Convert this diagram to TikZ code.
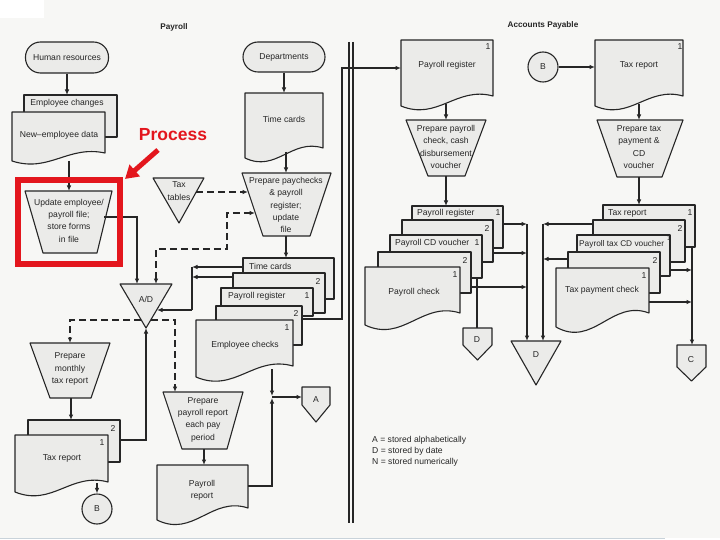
\documentclass[tikz,border=0pt]{standalone}
\usepackage{fontspec}
\setmainfont{Liberation Sans}
\usetikzlibrary{arrows.meta}
\definecolor{bg}{HTML}{F7F7F5}
\definecolor{shfill}{HTML}{EBEBE9}
\definecolor{ink}{HTML}{262626}
\definecolor{redc}{HTML}{E3161D}
\definecolor{rulec}{HTML}{C9D3DA}
\tikzset{
  shp/.style={draw=ink, fill=shfill, line width=1.1pt, line join=round},
  con/.style={draw=ink, line width=1.05pt},
  arr/.style={con, -{Latex[length=5.5pt,width=4.5pt]}},
  darr/.style={con, dash pattern=on 7pt off 4pt, {Latex[length=5.5pt,width=4.5pt]}-{Latex[length=5.5pt,width=4.5pt]}},
  dsh/.style={con, dash pattern=on 7pt off 4pt, -{Latex[length=5.5pt,width=4.5pt]}},
  lbl/.style={font=\fontsize{8.6}{12.3}\selectfont, text=ink, align=center, inner sep=0pt},
  lbw/.style={lbl, anchor=west},
  term/.style={shp, rounded corners=15pt, lbl},
  conn/.style={shp, circle, minimum size=30pt, lbl},
  ttl/.style={font=\fontsize{8.2}{10}\selectfont\bfseries, text=ink, inner sep=0pt}
}
% document with wavy bottom: x1,y1,x2,yLeftBottom,rise
\newcommand\fcdoc[5]{%
  \pgfmathsetmacro\dW{#3-#1}%
  \pgfmathsetmacro\cA{#1+0.6*\dW}%
  \pgfmathsetmacro\cB{#1+0.4*\dW}%
  \pgfmathsetmacro\yR{#4-#5}%
  \pgfmathsetmacro\yA{#4-2*#5}%
  \pgfmathsetmacro\yB{#4+1.5*#5}%
  \path[shp] (#1,#2) -- (#3,#2) -- (#3,\yR) .. controls (\cA,\yA) and (\cB,\yB) .. (#1,#4) -- cycle;}
\newcommand\fcsheet[4]{\path[shp] (#1,#2) rectangle (#3,#4);}
% trapezoid: topLx topRx topY botLx botRx botY
\newcommand\fctrap[6]{\path[shp] (#1,#3) -- (#2,#3) -- (#5,#6) -- (#4,#6) -- cycle;}
% inverted triangle: x1 x2 top apexX apexY
\newcommand\fctri[5]{\path[shp] (#1,#3) -- (#2,#3) -- (#4,#5) -- cycle;}
% off-page connector: x1 x2 top sideY apexY
\newcommand\fcpent[5]{\pgfmathsetmacro\pc{(#1+#2)/2}%
  \path[shp] (#1,#3) -- (#2,#3) -- (#2,#4) -- (\pc,#5) -- (#1,#4) -- cycle;}
\begin{document}
\begin{tikzpicture}[x=1pt,y=-1pt]
\useasboundingbox (0,0) rectangle (720,540);
\fill[bg] (0,0) rectangle (720,540);
\fill[white] (0,0) rectangle (44,18);
\fill[white] (0,538) rectangle (720,540);
\draw[rulec, line width=1pt] (0,538) -- (665,538);

% titles
\node[ttl] (tPay) at (174,27) {Payroll};
\node[ttl] (tAP) at (543,25) {Accounts Payable};

% divider
\draw[con] (349,42) -- (349,523);
\draw[con] (353,42) -- (353,523);

%================ PAYROLL =================
\node[term, minimum width=83pt, minimum height=31pt] (hr) at (67,57.5) {Human resources};
\fcsheet{24}{95}{117}{137}
\node[lbl] (empch) at (67,103) {Employee changes};
\fcdoc{12}{112}{105}{161}{8}
\node[lbl] (newemp) at (59,135) {New–employee data};

\fctrap{25}{112}{191}{43}{97}{253}
\node[lbl] (upd) at (69,220.5) {Update employee/\\payroll file;\\store forms\\in file};

\node[term, minimum width=82pt, minimum height=30pt] (dep) at (284,57) {Departments};
\fcdoc{245}{93}{323}{158}{10}
\node[lbl] (tc) at (284,119) {Time cards};

\fctri{153}{204}{178}{179}{223}
\node[lbl] (taxtab) at (179,191) {Tax\\tables};

\fctrap{242}{331}{173}{263}{310}{236}
\node[lbl] (prep) at (286,205) {Prepare paychecks\\\& payroll\\register;\\update\\file};

\fctri{120}{172}{284}{146}{328}
\node[lbl] (ad) at (146,299) {A/D};

% output stack
\fcsheet{243}{258}{334}{299}
\node[lbw] (s1) at (249,266) {Time cards};
\fcsheet{233}{273}{325}{313}
\node[lbl] (s2n) at (318,281) {2};
\fcsheet{221}{288}{313}{316}
\node[lbw] (s3) at (228,296) {Payroll register};
\node[lbl] (s3n) at (307,296) {1};
\fcsheet{216}{306}{302}{345}
\node[lbl] (s4n) at (296,313) {2};
\fcdoc{196}{320}{293}{377}{11}
\node[lbl] (s5n) at (287,328) {1};
\node[lbl] (s5) at (245,345) {Employee checks};

% monthly tax report
\fctrap{30}{110}{343}{50}{91}{398}
\node[lbl] (mtr) at (70,369) {Prepare\\monthly\\tax report};
\fcsheet{28}{420}{120}{462}
\node[lbl] (tr2) at (113,428) {2};
\fcdoc{15}{435}{108}{492}{10}
\node[lbl] (tr1n) at (102,443) {1};
\node[lbl] (tr1) at (62,458) {Tax report};
\node[conn] (bL) at (97,509) {B};

% payroll report
\fctrap{163}{243}{392}{182}{227}{449}
\node[lbl] (ppr) at (203,419.5) {Prepare\\payroll report\\each pay\\period};
\fcdoc{157}{465}{248}{520}{12}
\node[lbl] (pr) at (202,490) {Payroll\\report};
\fcpent{302}{330}{387}{405}{422}
\node[lbl] (cA) at (316,400) {A};

%================ ACCOUNTS PAYABLE =================
\fcdoc{401}{40}{493}{106}{10}
\node[lbl] (apreg) at (447,65) {Payroll register};
\node[lbl] (apregn) at (488,47) {1};
\node[conn] (bR) at (543,67) {B};
\fcdoc{595}{40}{683}{106}{10}
\node[lbl] (aptr) at (639,65) {Tax report};
\node[lbl] (aptrn) at (680,47) {1};

\fctrap{406}{486}{120}{428}{465}{176}
\node[lbl] (ppc) at (446,147) {Prepare payroll\\check, cash\\disbursement\\voucher};
\fctrap{597}{683}{120}{617}{662}{177}
\node[lbl] (ptp) at (639,147) {Prepare tax\\payment \&\\CD\\voucher};

% left AP stack
\fcsheet{412}{206}{503}{248}
\node[lbw] (p1) at (417,213) {Payroll register};
\node[lbl] (p1n) at (498,213) {1};
\fcsheet{402}{220}{493}{262}
\node[lbl] (p2n) at (487,228) {2};
\fcsheet{390}{235}{482}{278}
\node[lbw] (p3) at (395,243) {Payroll CD voucher};
\node[lbl] (p3n) at (477,243) {1};
\fcsheet{378}{252}{471}{293}
\node[lbl] (p4n) at (465,260) {2};
\fcdoc{365}{267}{460}{325}{12}
\node[lbl] (p5n) at (455,275) {1};
\node[lbl] (p5) at (414,292) {Payroll check};

% right AP stack
\fcsheet{603}{205}{695}{247}
\node[lbw] (t1) at (608,213) {Tax report};
\node[lbl] (t1n) at (690,213) {1};
\fcsheet{593}{220}{685}{262}
\node[lbl] (t2n) at (680,228) {2};
\fcsheet{577}{235}{670}{276}
\node[lbw, font=\fontsize{8.3}{10}\selectfont] (t3) at (579,244) {Payroll tax CD voucher};
\node[lbl, font=\fontsize{7}{8}\selectfont] (t3n) at (669,238) {1};
\fcsheet{568}{252}{660}{293}
\node[lbl] (t4n) at (655,260) {2};
\fcdoc{556}{268}{649}{327}{14}
\node[lbl] (t5n) at (644,276) {1};
\node[lbl] (t5) at (602,290) {Tax payment check};

\fcpent{463}{492}{328}{345}{360}
\node[lbl] (dS) at (477,340) {D};
\fctri{511}{561}{341}{536}{385}
\node[lbl] (dT) at (536,355) {D};
\fcpent{677}{706}{345}{367}{381}
\node[lbl] (cC) at (691,360) {C};

% legend
\node[lbw] (leg) at (372,451) {\begin{tabular}{@{}l@{}}A = stored alphabetically\\[-1.5pt]D = stored by date\\[-1.5pt]N = stored numerically\end{tabular}};

%================ CONNECTORS =================
\coordinate (adTop1) at (137,284);
\coordinate (adTop2) at (156,284);
\coordinate (adApex) at (146,328);
\coordinate (empchTop) at (67,95);
\coordinate (tcTop) at (284,93);
\draw[arr] (hr.south) -- (empchTop);
\draw[arr] (69,161) -- (69,191);
\draw[arr] (104,217) -| (adTop1);
\draw[darr] (adTop2) -- (156,249) -- (227,249) -- (227,213) -- (255,213);
\draw[dsh] (196,192) -- (248,192);
\draw[arr] (dep.south) -- (tcTop);
\draw[arr] (286,152) -- (286,173);
\draw[arr] (286,236) -- (286,258);
\draw[arr] (243,267) -- (192,267);
\draw[arr] (233,277) -- (192,277);
\draw[con] (192,267) -- (192,310);
\draw[arr] (192,310) -- (157,310);
\draw[arr] (302,319) -- (342,319) -- (342,68) -- (401,68);
\draw[dsh] (141,320) -- (70,320) -- (70,343);
\draw[dsh] (151,320) -- (175,320) -- (175,392);
\draw[arr] (120,440) -- (146,440) -- (adApex);
\draw[arr] (71,398) -- (71,420);
\draw[arr] (97,483) -- (bL.north);
\draw[arr] (204,449) -- (204,465);
\draw[arr] (272,369) -- (272,396);
\draw[arr] (248,486) -- (272,486) -- (272,398);
\draw[arr] (272,397) -- (302,397);

\draw[arr] (446,104) -- (446,120);
\draw[arr] (446,176) -- (446,206);
\draw[arr] (bR.east) -- (595,67);
\draw[arr] (639,104) -- (639,120);
\draw[arr] (639,177) -- (639,205);
\draw[arr] (503,224) -- (527,224);
\draw[arr] (493,253) -- (527,253);
\draw[arr] (471,287) -- (527,287);
\draw[arr] (527,224) -- (527,341);
\draw[con] (477,278) -- (477,328);
\draw[arr] (593,224) -- (543,224);
\draw[arr] (568,259) -- (543,259);
\draw[arr] (543,224) -- (543,341);
\draw[arr] (670,270) -- (692,270);
\draw[arr] (649,302) -- (692,302);
\draw[arr] (692,247) -- (692,345);

%================ ANNOTATION =================
\draw[redc, line width=6pt] (18,180) rectangle (120,264);
\node[font=\fontsize{17.5}{20}\selectfont\bfseries, text=redc, inner sep=0pt] (proc) at (173,135) {Process};
\draw[redc, line width=5pt, -{Triangle[length=13pt,width=15pt]}] (158,150) -- (125,179);
\end{tikzpicture}
\end{document}
